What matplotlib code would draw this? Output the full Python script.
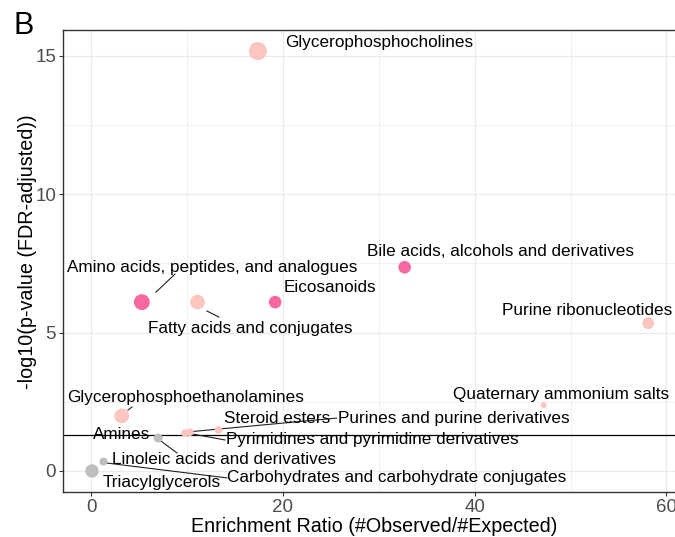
import numpy as np
import matplotlib
matplotlib.use("Agg")
import matplotlib.pyplot as plt

plt.rcParams["font.family"] = ["Liberation Sans", "DejaVu Sans"]

# enrichment results
classes = [
    "Glycerophosphocholines",
    "Bile acids, alcohols and derivatives",
    "Amino acids, peptides, and analogues",
    "Fatty acids and conjugates",
    "Eicosanoids",
    "Purine ribonucleotides",
    "Quaternary ammonium salts",
    "Glycerophosphoethanolamines",
    "Steroid esters",
    "Purines and purine derivatives",
    "Pyrimidines and pyrimidine derivatives",
    "Amines",
    "Linoleic acids and derivatives",
    "Carbohydrates and carbohydrate conjugates",
    "Triacylglycerols",
]
enrichment = [17.4, 32.7, 5.3, 11.1, 19.2, 58.1, 47.2, 3.2, 13.3, 9.8, 10.3, 7.0, 1.3, 1.3, 0.1]
neglog_p = [15.17, 7.36, 6.1, 6.1, 6.1, 5.34, 2.38, 1.99, 1.48, 1.37, 1.40, 1.19, 0.34, 0.34, 0.0]
hits = [16, 7, 12, 10, 7, 6, 1, 10, 2, 2, 2, 3, 2, 2, 8]
strong = [False, True, True, False, True, False, False, False, False, False, False, False, False, False, False]

cutoff = -np.log10(0.05)

# label placement (left edge, vertical centre), data coordinates
label_pos = [
    (20.2, 15.49), (28.75, 7.94), (-2.5, 7.36), (5.94, 5.16), (20.1, 6.61),
    (42.9, 5.81), (37.7, 2.78), (-2.5, 2.64), (13.85, 1.88), (25.7, 1.88),
    (14.06, 1.12), (0.21, 1.30), (2.19, 0.40), (14.17, -0.25), (1.25, -0.43),
]
# repel segments (point side -> label side)
segments = {
    2: [(6.77, 6.46), (8.75, 7.11)],
    3: [(12.08, 5.78), (13.33, 5.56)],
    7: [(3.85, 2.20), (4.27, 2.31)],
    9: [(10.1, 1.41), (25.6, 1.91)],
    10: [(10.5, 1.34), (13.96, 1.12)],
    11: [(7.3, 1.08), (8.96, 0.65)],
    13: [(1.56, 0.29), (14.17, -0.25)],
}

colors = []
for y, s in zip(neglog_p, strong):
    if y < cutoff:
        colors.append("#BEBEBE")
    elif s:
        colors.append("#F768A1")
    else:
        colors.append("#FCC5C0")
diam_px = 2 + 4 * np.sqrt(hits)
sizes = (diam_px * 0.72) ** 2

fig = plt.figure(figsize=(6.75, 5.37), dpi=100)
ax = fig.add_axes([63 / 675, 45 / 537, 615 / 675, 462 / 537])

ax.set_xlim(-2.92, 61.2)
ax.set_ylim(-0.76, 15.93)
ax.set_xticks([0, 20, 40, 60])
ax.set_yticks([0, 5, 10, 15])
ax.set_xticks([10, 30, 50], minor=True)
ax.set_yticks([2.5, 7.5, 12.5], minor=True)
ax.grid(which="major", color="#EBEBEB", linewidth=0.9)
ax.grid(which="minor", color="#EBEBEB", linewidth=0.5)
ax.tick_params(which="minor", length=0)
ax.tick_params(which="major", length=3, color="#333333", labelsize=13.5,
               labelcolor="#4D4D4D", width=0.8, pad=2)
ax.set_axisbelow(True)
for sp in ax.spines.values():
    sp.set_color("#333333")
    sp.set_linewidth(1.0)

ax.axhline(cutoff, color="black", linewidth=0.9, zorder=2)

for i, seg in segments.items():
    (x0, y0), (x1, y1) = seg
    ax.plot([x0, x1], [y0, y1], color="#222222", linewidth=0.8, zorder=2)

ax.scatter(enrichment, neglog_p, s=sizes, c=colors, linewidths=0, zorder=3)

for name, (lx, ly) in zip(classes, label_pos):
    ax.text(lx, ly, name, ha="left", va="center", fontsize=12.3, color="black", zorder=4)

ax.set_xlabel("Enrichment Ratio (#Observed/#Expected)", fontsize=14.2, va="center")
ax.set_ylabel("-log10(p-value (FDR-adjusted))", fontsize=14.2, va="center")
ax.xaxis.set_label_coords(0.506, -0.0736)
ax.yaxis.set_label_coords(-0.0585, 0.52)

fig.text(14 / 675, 1 - 26 / 537, "B", fontsize=22, ha="left", va="center")

fig.savefig("out.png", dpi=100)
